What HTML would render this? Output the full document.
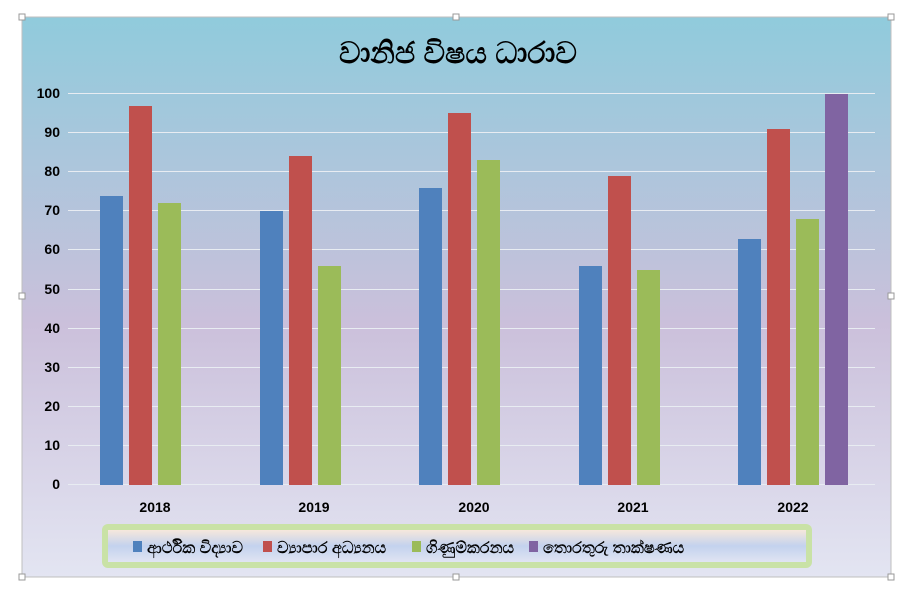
<!DOCTYPE html>
<html><head><meta charset="utf-8"><style>
body{margin:0;background:#fff;width:903px;height:587px;overflow:hidden;font-family:"Liberation Sans",sans-serif}
</style></head><body>
<svg width="903" height="587" xmlns="http://www.w3.org/2000/svg" font-family="Liberation Sans, sans-serif">
<defs>
<linearGradient id="bg" x1="0" y1="0" x2="0" y2="1">
<stop offset="0" stop-color="#90cbdc"/>
<stop offset="0.55" stop-color="#cbc0db"/>
<stop offset="1" stop-color="#e3e5f2"/>
</linearGradient>
<linearGradient id="lg" x1="0" y1="0" x2="0" y2="1">
<stop offset="0" stop-color="#f6e8dc"/>
<stop offset="0.5" stop-color="#c3d2ee"/>
<stop offset="1" stop-color="#e0e4f2"/>
</linearGradient>
</defs>
<rect x="22" y="17" width="869" height="560" fill="url(#bg)" stroke="#bfbfbf"/>
<text x="458" y="63" font-size="30" text-anchor="middle" fill="#000" stroke="#000" stroke-width="0.9">වානිජ විෂය ධාරාව</text>
<g stroke="#e8ecf2" stroke-width="1">
<line x1="68" x2="875" y1="93.5" y2="93.5"/><line x1="68" x2="875" y1="132.5" y2="132.5"/>
<line x1="68" x2="875" y1="171.5" y2="171.5"/><line x1="68" x2="875" y1="210.5" y2="210.5"/>
<line x1="68" x2="875" y1="249.5" y2="249.5"/><line x1="68" x2="875" y1="289.5" y2="289.5"/>
<line x1="68" x2="875" y1="328.5" y2="328.5"/><line x1="68" x2="875" y1="367.5" y2="367.5"/>
<line x1="68" x2="875" y1="406.5" y2="406.5"/><line x1="68" x2="875" y1="445.5" y2="445.5"/>
<line x1="68" x2="875" y1="484.5" y2="484.5"/>
</g>
<g font-size="14" font-weight="bold" text-anchor="end" fill="#000">
<text x="60" y="98">100</text><text x="60" y="137">90</text><text x="60" y="176">80</text>
<text x="60" y="215">70</text><text x="60" y="254">60</text><text x="60" y="294">50</text>
<text x="60" y="333">40</text><text x="60" y="372">30</text><text x="60" y="411">20</text>
<text x="60" y="450">10</text><text x="60" y="489">0</text>
</g>
<g font-size="14" font-weight="bold" text-anchor="middle" fill="#000">
<text x="155" y="512">2018</text><text x="314" y="512">2019</text><text x="474" y="512">2020</text>
<text x="633" y="512">2021</text><text x="793" y="512">2022</text>
</g>
<g>
<rect x="100" y="196" width="23" height="289" fill="#4f81bd"/>
<rect x="129" y="106" width="23" height="379" fill="#c0504d"/>
<rect x="158" y="203" width="23" height="282" fill="#9bbb59"/>
<rect x="260" y="211" width="23" height="274" fill="#4f81bd"/>
<rect x="289" y="156" width="23" height="329" fill="#c0504d"/>
<rect x="318" y="266" width="23" height="219" fill="#9bbb59"/>
<rect x="419" y="188" width="23" height="297" fill="#4f81bd"/>
<rect x="448" y="113" width="23" height="372" fill="#c0504d"/>
<rect x="477" y="160" width="23" height="325" fill="#9bbb59"/>
<rect x="579" y="266" width="23" height="219" fill="#4f81bd"/>
<rect x="608" y="176" width="23" height="309" fill="#c0504d"/>
<rect x="637" y="270" width="23" height="215" fill="#9bbb59"/>
<rect x="738" y="239" width="23" height="246" fill="#4f81bd"/>
<rect x="767" y="129" width="23" height="356" fill="#c0504d"/>
<rect x="796" y="219" width="23" height="266" fill="#9bbb59"/>
<rect x="825" y="94" width="23" height="391" fill="#8064a2"/>
</g>
<rect x="102" y="524" width="710" height="44" rx="6" fill="#c9e2a6"/>
<rect x="108" y="530" width="698" height="32" fill="url(#lg)"/>
<g font-size="16" fill="#000" stroke="#000" stroke-width="0.45">
<text x="147" y="553">ආර්ථික විද්‍යාව</text>
<text x="277" y="553">ව්‍යාපාර අධ්‍යනය</text>
<text x="426" y="553">ගිණුම්කරනය</text>
<text x="543" y="553">තොරතුරු තාක්ෂණය</text>
</g>
<rect x="133" y="541" width="9" height="11" fill="#4f81bd"/>
<rect x="263" y="541" width="9" height="11" fill="#c0504d"/>
<rect x="412" y="541" width="9" height="11" fill="#9bbb59"/>
<rect x="529" y="541" width="9" height="11" fill="#8064a2"/>
<g fill="#fff" stroke="#999">
<rect x="19" y="14" width="6" height="6"/><rect x="453" y="14" width="6" height="6"/><rect x="888" y="14" width="6" height="6"/>
<rect x="19" y="293" width="6" height="6"/><rect x="888" y="293" width="6" height="6"/>
<rect x="19" y="574" width="6" height="6"/><rect x="453" y="574" width="6" height="6"/><rect x="888" y="574" width="6" height="6"/>
</g>
</svg>
</body></html>
